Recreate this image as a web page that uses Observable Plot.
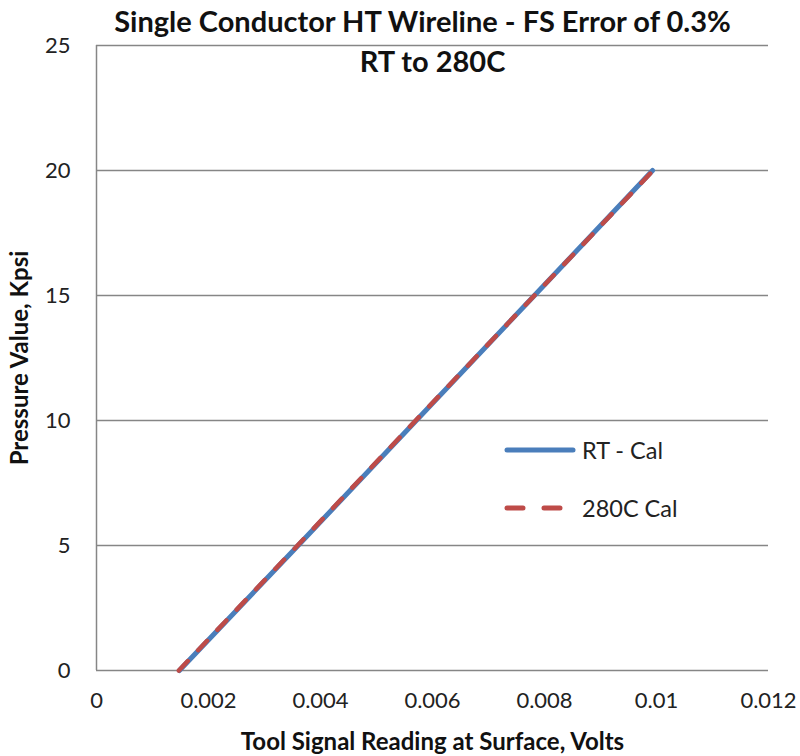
<!DOCTYPE html>
<html><head><meta charset="utf-8">
<script src="https://cdn.jsdelivr.net/npm/d3@7"></script>
<script src="https://cdn.jsdelivr.net/npm/@observablehq/plot@0.6"></script>
<style>
body{margin:0;background:#fff}
#chart{position:relative;width:800px;height:756px;font-family:Lato,sans-serif}
#legend{position:absolute;left:503px;top:421px;font-size:23.5px;color:#222}
#legend .row{display:flex;align-items:center;height:58px}
#legend svg{margin-right:5px}
</style>
</head><body><div id="chart"></div>
<script>
const pressureKpsi = [0, 5, 10, 15, 20];
const rtCalVolts = [0.00148, 0.00360, 0.00571, 0.00782, 0.00993];
const htCalVolts = [0.00147, 0.00359, 0.00570, 0.00782, 0.00994];
const seriesNames = ["RT - Cal", "280C Cal"];
const xTicks = [0, 0.002, 0.004, 0.006, 0.008, 0.01, 0.012];
const yTicks = [0, 5, 10, 15, 20, 25];
const titleLines = ["Single Conductor HT Wireline - FS Error of 0.3%", "RT to 280C"];
const xLabel = "Tool Signal Reading at Surface, Volts";
const yLabel = "Pressure Value, Kpsi";

const blue = "#4a7ebb", red = "#be4b48", grid = "#868686";
const rows = [];
pressureKpsi.forEach((p, i) => {
  rows.push({series: seriesNames[0], v: rtCalVolts[i], p});
});
pressureKpsi.forEach((p, i) => {
  rows.push({series: seriesNames[1], v: htCalVolts[i], p});
});

const chart = Plot.plot({
  width: 800, height: 756,
  marginLeft: 96, marginRight: 32, marginTop: 45, marginBottom: 86,
  style: {fontFamily: "Lato, sans-serif", background: "#fff"},
  x: {domain: [0, 0.012]},
  y: {domain: [0, 25]},
  marks: [
    Plot.gridY(yTicks.filter(d => d > 0), {stroke: grid, strokeOpacity: 1, strokeWidth: 1.5}),
    Plot.ruleX([0], {stroke: grid, strokeWidth: 1.5}),
    Plot.ruleY([0], {stroke: grid, strokeWidth: 1.5}),
    Plot.axisY({ticks: yTicks, tickSize: 0, tickPadding: 26, fontSize: 22, fill: "#222", label: null, tickFormat: d => String(d)}),
    Plot.axisX({ticks: xTicks, tickSize: 0, tickPadding: 22, fontSize: 22, fill: "#222", label: null, tickFormat: d => String(d)}),
    Plot.line(rows.filter(d => d.series === seriesNames[0]), {x: "v", y: "p", stroke: blue, strokeWidth: 5}),
    Plot.line(rows.filter(d => d.series === seriesNames[1]), {x: "v", y: "p", stroke: red, strokeWidth: 4.5, strokeDasharray: "13,15", strokeLinecap: "round"}),
    Plot.text([titleLines[0]], {frameAnchor: "top", lineAnchor: "middle", textAnchor: "middle", dx: -10, dy: -23, fontSize: 29, fontWeight: "bold", fill: "#111"}),
    Plot.text([titleLines[1]], {frameAnchor: "top", lineAnchor: "middle", textAnchor: "middle", dy: 17, fontSize: 29, fontWeight: "bold", fill: "#111"}),
    Plot.text([xLabel], {frameAnchor: "bottom", lineAnchor: "middle", textAnchor: "middle", dy: 72, fontSize: 24, fontWeight: "bold", fill: "#111"}),
    Plot.text([yLabel], {frameAnchor: "left", lineAnchor: "middle", textAnchor: "middle", dx: -76, rotate: -90, fontSize: 24, fontWeight: "bold", fill: "#111"})
  ]
});
const root = document.getElementById("chart");
root.appendChild(chart);

const legend = document.createElement("div");
legend.id = "legend";
const samples = [
  {stroke: blue, width: 5, dash: null},
  {stroke: red, width: 5, dash: "16,21"}
];
seriesNames.forEach((name, i) => {
  const s = samples[i];
  const row = document.createElement("div");
  row.className = "row";
  row.innerHTML = `<svg width="74" height="10"><line x1="4" y1="5" x2="70" y2="5" stroke="${s.stroke}" stroke-width="${s.width}" stroke-linecap="round" ${s.dash ? `stroke-dasharray="${s.dash}"` : ""}/></svg><span>${name}</span>`;
  legend.appendChild(row);
});
root.appendChild(legend);
</script>
</body></html>
